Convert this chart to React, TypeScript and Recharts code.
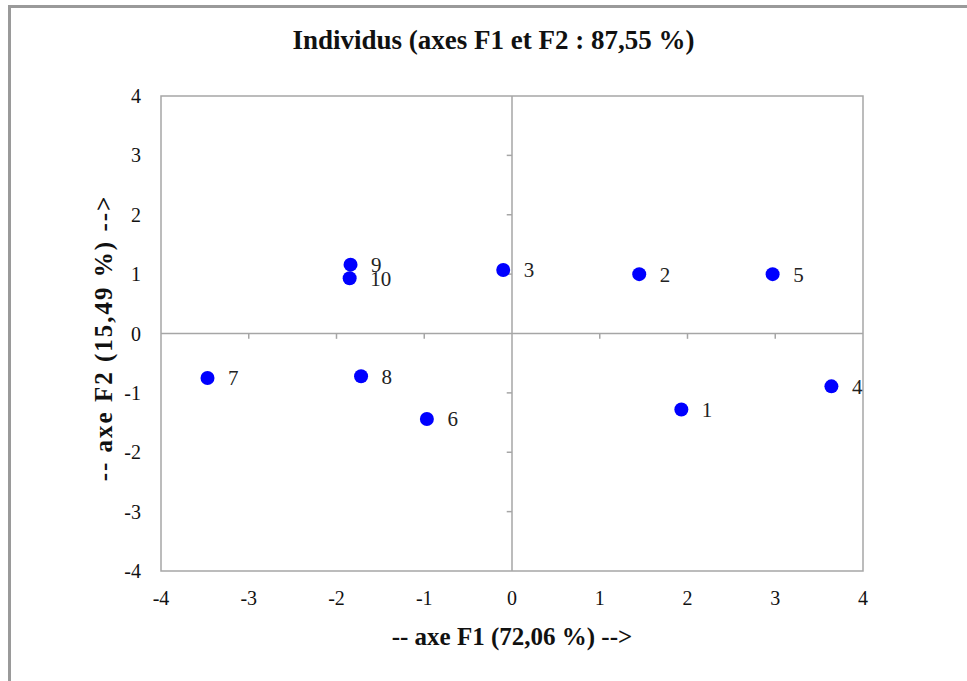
import {
  ScatterChart,
  Scatter,
  XAxis,
  YAxis,
  ReferenceLine,
  ReferenceArea,
  LabelList,
} from 'recharts';

const individus = ['1', '2', '3', '4', '5', '6', '7', '8', '9', '10'];
const f1 = [1.93, 1.45, -0.1, 3.64, 2.97, -0.97, -3.47, -1.72, -1.84, -1.85];
const f2 = [-1.28, 1.0, 1.07, -0.89, 1.0, -1.44, -0.75, -0.72, 1.16, 0.93];
const ticks = [-4, -3, -2, -1, 0, 1, 2, 3, 4];

const title = 'Individus (axes F1 et F2 : 87,55 %)';
const xTitle = '-- axe F1 (72,06 %) -->';
const yTitle = '-- axe F2 (15,49 %) -->';

const data = individus.map((name, i) => ({ name, x: f1[i], y: f2[i] }));

const FONT = '"Liberation Serif", "Times New Roman", serif';
const GRID = '#a6a6a6';

const Dot = (p: any) => <circle cx={p.cx} cy={p.cy} r={7} fill="#0000ff" />;

export default function App() {
  return (
    <div
      style={{
        position: 'absolute',
        left: 0,
        top: 0,
        width: 967,
        height: 681,
        overflow: 'hidden',
        background: '#fff',
        fontFamily: FONT,
      }}
    >
      <div
        style={{
          position: 'absolute',
          left: 8,
          top: 5,
          width: 1000,
          height: 700,
          borderLeft: '3px solid #9a9a9a',
          borderTop: '3px solid #9a9a9a',
        }}
      />
      <div
        style={{
          position: 'absolute',
          left: 0,
          width: 967,
          top: 25,
          textAlign: 'center',
          fontSize: 27,
          fontWeight: 'bold',
          color: '#111',
          paddingLeft: 20,
          boxSizing: 'border-box',
        }}
      >
        {title}
      </div>
      <div
        style={{
          position: 'absolute',
          left: 161,
          width: 702,
          top: 623,
          textAlign: 'center',
          fontSize: 25,
          fontWeight: 'bold',
          color: '#111',
        }}
      >
        {xTitle}
      </div>
      <div
        style={{
          position: 'absolute',
          left: 104,
          top: 338,
          transform: 'translate(-50%, -50%) rotate(-90deg)',
          whiteSpace: 'nowrap',
          fontSize: 25,
          fontWeight: 'bold',
          color: '#111',
          letterSpacing: 2,
        }}
      >
        {yTitle}
      </div>
      <div style={{ position: 'absolute', left: 0, top: 0 }}>
        <ScatterChart
          width={967}
          height={681}
          margin={{ top: 96, right: 104, bottom: 0, left: 101 }}
        >
          <XAxis
            type="number"
            dataKey="x"
            domain={[-4, 4]}
            ticks={ticks}
            allowDataOverflow
            axisLine={false}
            tickLine={false}
            height={110}
            tickMargin={14}
            tick={{ fill: '#111', fontSize: 20, fontFamily: FONT }}
          />
          <YAxis
            type="number"
            dataKey="y"
            domain={[-4, 4]}
            ticks={ticks}
            allowDataOverflow
            axisLine={false}
            tickLine={false}
            width={60}
            tickMargin={14}
            tick={{ fill: '#111', fontSize: 20, fontFamily: FONT }}
          />
          <ReferenceArea
            x1={-4}
            x2={4}
            y1={-4}
            y2={4}
            fill="none"
            stroke={GRID}
            strokeWidth={1.5}
            ifOverflow="visible"
          />
          <ReferenceLine x={0} stroke={GRID} strokeWidth={1.5} />
          <ReferenceLine y={0} stroke={GRID} strokeWidth={1.5} />
          {ticks
            .filter((t) => t !== 0 && Math.abs(t) !== 4)
            .map((t) => (
              <ReferenceLine
                key={'tx' + t}
                segment={[
                  { x: t, y: 0 },
                  { x: t, y: -0.09 },
                ]}
                stroke={GRID}
                strokeWidth={1.5}
              />
            ))}
          {ticks
            .filter((t) => t !== 0 && Math.abs(t) !== 4)
            .map((t) => (
              <ReferenceLine
                key={'ty' + t}
                segment={[
                  { x: 0, y: t },
                  { x: -0.06, y: t },
                ]}
                stroke={GRID}
                strokeWidth={1.5}
              />
            ))}
          <Scatter data={data} fill="#0000ff" isAnimationActive={false} shape={Dot}>
            <LabelList
              dataKey="name"
              position="right"
              offset={16}
              fill="#222"
              fontSize={21}
              fontFamily={FONT}
            />
          </Scatter>
        </ScatterChart>
      </div>
    </div>
  );
}
